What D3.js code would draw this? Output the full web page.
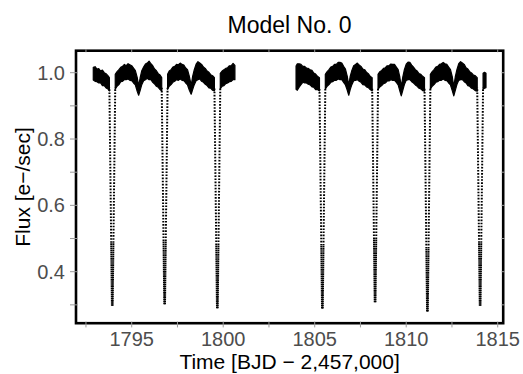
<!DOCTYPE html>
<html>
<head>
<meta charset="utf-8">
<script src="https://cdn.jsdelivr.net/npm/d3@7"></script>
<style>
  body { margin: 0; background: #fff; }
  svg { display: block; }
  text { font-family: "Liberation Sans", Arial, Helvetica, sans-serif; }
</style>
</head>
<body>
<svg id="chart" width="523" height="374"></svg>
<script>
// ---- Light curve: out-of-eclipse flux band (upper / lower envelope), null = break ----
const bandTime = [
  1792.90,1793.00,1793.10,1793.20,1793.30,1793.40,1793.50,1793.60,1793.70,1793.78, null,
  1794.10,1794.20,1794.30,1794.40,1794.50,1794.60,1794.70,1794.80,1794.90,1795.00,1795.10,1795.20,1795.30,1795.38,1795.46,1795.55,1795.65,1795.75,1795.85,1795.95,1796.05,1796.15,1796.25,1796.35,1796.45,1796.55,1796.64, null,
  1796.96,1797.05,1797.15,1797.25,1797.35,1797.45,1797.55,1797.65,1797.75,1797.85,1797.95,1798.05,1798.15,1798.25,1798.33,1798.42,1798.52,1798.62,1798.72,1798.82,1798.92,1799.02,1799.12,1799.22,1799.32,1799.42,1799.52, null,
  1799.84,1799.94,1800.04,1800.14,1800.24,1800.34,1800.44,1800.54,1800.64, null,
  1803.98,1804.05,1804.15,1804.25,1804.35,1804.45,1804.55,1804.65,1804.75,1804.85,1804.95,1805.05,1805.15,1805.26, null,
  1805.58,1805.68,1805.78,1805.88,1805.98,1806.08,1806.18,1806.28,1806.38,1806.48,1806.58,1806.68,1806.78,1806.86,1806.94,1807.03,1807.13,1807.23,1807.33,1807.43,1807.53,1807.63,1807.73,1807.83,1807.93,1808.03,1808.14, null,
  1808.46,1808.56,1808.66,1808.76,1808.86,1808.96,1809.06,1809.16,1809.26,1809.36,1809.46,1809.56,1809.65,1809.73,1809.81,1809.90,1810.00,1810.10,1810.20,1810.30,1810.40,1810.50,1810.60,1810.70,1810.80,1810.90,1811.00, null,
  1811.32,1811.42,1811.52,1811.62,1811.72,1811.82,1811.92,1812.02,1812.12,1812.22,1812.32,1812.42,1812.52,1812.60,1812.68,1812.77,1812.87,1812.97,1813.07,1813.17,1813.27,1813.37,1813.47,1813.57,1813.67,1813.77,1813.88, null,
  1814.20,1814.28,1814.36
];
const bandUpper = [
  1.016,1.018,1.011,1.012,1.005,1.008,1.000,0.997,0.991,0.985, null,
  0.995,1.003,1.009,1.016,1.019,1.025,1.021,1.027,1.024,1.021,1.014,1.006,0.986,0.960,0.984,1.006,1.017,1.026,1.029,1.035,1.027,1.021,1.011,1.006,0.997,0.993,0.985, null,
  0.995,1.005,1.009,1.017,1.019,1.025,1.024,1.029,1.025,1.023,1.014,1.009,0.989,0.962,0.989,1.009,1.026,1.033,1.029,1.025,1.017,1.013,1.005,1.001,0.994,0.991,0.985, null,
  0.998,1.005,1.009,1.013,1.015,1.021,1.021,1.028,1.022, null,
  1.020,1.027,1.027,1.025,1.019,1.019,1.014,1.013,1.009,1.007,0.999,0.996,0.989,0.985, null,
  0.995,1.003,1.009,1.017,1.019,1.025,1.025,1.031,1.031,1.029,1.019,1.011,0.989,0.962,0.989,1.007,1.021,1.025,1.029,1.023,1.019,1.011,1.009,1.001,0.997,0.989,0.985, null,
  0.995,1.003,1.007,1.013,1.015,1.021,1.021,1.026,1.025,1.025,1.017,1.009,0.987,0.958,0.986,1.009,1.026,1.032,1.031,1.023,1.017,1.009,1.005,0.997,0.995,0.989,0.985, null,
  0.995,1.003,1.009,1.017,1.019,1.025,1.027,1.031,1.027,1.025,1.017,1.009,0.987,0.958,0.987,1.009,1.027,1.033,1.029,1.025,1.015,1.011,1.003,0.999,0.993,0.991,0.985, null,
  0.998,1.001,0.998
];
const bandLower = [
  0.978,0.974,0.973,0.969,0.969,0.961,0.961,0.954,0.951,0.945, null,
  0.950,0.959,0.964,0.973,0.974,0.979,0.979,0.981,0.977,0.976,0.969,0.963,0.944,0.932,0.946,0.964,0.976,0.979,0.983,0.979,0.979,0.971,0.966,0.959,0.956,0.949,0.945, null,
  0.950,0.959,0.964,0.971,0.974,0.979,0.977,0.981,0.977,0.976,0.969,0.963,0.947,0.935,0.949,0.964,0.976,0.979,0.981,0.974,0.971,0.965,0.961,0.954,0.953,0.947,0.945, null,
  0.952,0.959,0.961,0.967,0.969,0.973,0.974,0.979,0.979, null,
  0.950,0.947,0.956,0.964,0.971,0.969,0.969,0.965,0.963,0.957,0.956,0.949,0.949,0.945, null,
  0.950,0.959,0.964,0.971,0.973,0.977,0.977,0.981,0.979,0.979,0.971,0.963,0.947,0.932,0.949,0.964,0.976,0.977,0.979,0.974,0.971,0.964,0.963,0.957,0.955,0.949,0.945, null,
  0.950,0.957,0.961,0.967,0.969,0.975,0.975,0.979,0.977,0.977,0.971,0.963,0.945,0.930,0.946,0.964,0.977,0.979,0.979,0.973,0.969,0.963,0.959,0.953,0.951,0.946,0.944, null,
  0.950,0.959,0.964,0.971,0.973,0.977,0.977,0.981,0.977,0.976,0.969,0.963,0.945,0.930,0.946,0.964,0.977,0.979,0.979,0.973,0.969,0.961,0.959,0.953,0.951,0.946,0.944, null,
  0.950,0.953,0.955
];

// ---- Primary eclipses: ingress start, mid-eclipse, egress end, minimum flux ----
const eclipseStart = [1793.78, 1796.64, 1799.52, 1805.26, 1808.14, 1811.00, 1813.88];
const eclipseMid   = [1793.94, 1796.80, 1799.68, 1805.42, 1808.30, 1811.16, 1814.04];
const eclipseEnd   = [1794.10, 1796.96, 1799.84, 1805.58, 1808.46, 1811.32, 1814.20];
const eclipseMin   = [0.297, 0.302, 0.290, 0.289, 0.308, 0.280, 0.297];
const eclipseEdgeFlux = 0.955;

// ---- Axis ticks and labels ----
const xTicks = [1792.5, 1795, 1797.5, 1800, 1802.5, 1805, 1807.5, 1810, 1812.5, 1815];
const xTickLabels = ["", "1795", "", "1800", "", "1805", "", "1810", "", "1815"];
const yTicks = [0.3, 0.4, 0.5, 0.6, 0.7, 0.8, 0.9, 1.0];
const yTickLabels = ["", "0.4", "", "0.6", "", "0.8", "", "1.0"];

const chartTitle = "Model No. 0";
const xTitle = "Time [BJD \u2212 2,457,000]";
const yTitle = "Flux [e\u2212/sec]";

// ---- Layout ----
const panel = { left: 76, right: 503.2, top: 50.7, bottom: 323.2 };
const svg = d3.select("#chart");

const x = d3.scaleLinear().domain([1791.956, 1815.30]).range([panel.left, panel.right]);
const y = d3.scaleLinear().domain([0.2447, 1.0663]).range([panel.bottom, panel.top]);

svg.append("defs").append("clipPath").attr("id", "panel-clip")
  .append("rect")
  .attr("x", panel.left).attr("y", panel.top)
  .attr("width", panel.right - panel.left).attr("height", panel.bottom - panel.top);

const plot = svg.append("g").attr("clip-path", "url(#panel-clip)");

// Out-of-eclipse flux band
const band = bandTime.map((t, i) => ({ t, u: bandUpper[i], l: bandLower[i] }));
const area = d3.area()
  .defined(d => d.t !== null)
  .x(d => x(d.t))
  .y0(d => y(d.l))
  .y1(d => y(d.u));
plot.append("path")
  .datum(band)
  .attr("d", area)
  .attr("fill", "#000")
  .attr("stroke", "#000")
  .attr("stroke-width", 1.2)
  .attr("stroke-linejoin", "round");

// Eclipse ingress / egress columns of points, drawn from the minimum upward
const dense = d3.range(30).flatMap(() => [1.6, 0.5]);
const sparse = d3.range(80).flatMap(() => [1.6, 1.5]);
const dash = dense.concat(sparse).join(" ");
const line = d3.line().x(d => x(d.t)).y(d => y(d.f));

eclipseMid.forEach((tm, i) => {
  const legs = [
    [{ t: tm - 0.02, f: eclipseMin[i] }, { t: eclipseStart[i], f: eclipseEdgeFlux }],
    [{ t: tm + 0.02, f: eclipseMin[i] }, { t: eclipseEnd[i], f: eclipseEdgeFlux }]
  ];
  legs.forEach(leg => {
    plot.append("path")
      .datum(leg)
      .attr("d", line)
      .attr("fill", "none")
      .attr("stroke", "#000")
      .attr("stroke-width", 2)
      .attr("stroke-dasharray", dash);
  });
});

// Panel frame
svg.append("rect")
  .attr("x", panel.left).attr("y", panel.top)
  .attr("width", panel.right - panel.left).attr("height", panel.bottom - panel.top)
  .attr("fill", "none")
  .attr("stroke", "#000")
  .attr("stroke-width", 2.6);

// Ticks crossing the frame on all four sides
const tickColor = "#9a9a9a";
const ticks = svg.append("g").attr("stroke", tickColor).attr("stroke-width", 1);
xTicks.forEach(t => {
  ticks.append("line").attr("x1", x(t)).attr("x2", x(t)).attr("y1", panel.bottom - 1.6).attr("y2", panel.bottom + 4.2);
  ticks.append("line").attr("x1", x(t)).attr("x2", x(t)).attr("y1", panel.top - 1.4).attr("y2", panel.top + 1.6);
});
yTicks.forEach(v => {
  ticks.append("line").attr("y1", y(v)).attr("y2", y(v)).attr("x1", panel.left - 6).attr("x2", panel.left + 1.6);
  ticks.append("line").attr("y1", y(v)).attr("y2", y(v)).attr("x1", panel.right - 1.6).attr("x2", panel.right + 1.4);
});

// Tick labels
const labelColor = "#4d4d4d";
svg.append("g").selectAll("text")
  .data(xTicks.map((t, i) => ({ t, s: xTickLabels[i] })).filter(d => d.s))
  .join("text")
  .attr("x", d => x(d.t))
  .attr("y", 346)
  .attr("text-anchor", "middle")
  .attr("font-size", 20)
  .attr("fill", labelColor)
  .text(d => d.s);

svg.append("g").selectAll("text")
  .data(yTicks.map((v, i) => ({ v, s: yTickLabels[i] })).filter(d => d.s))
  .join("text")
  .attr("x", 65)
  .attr("y", d => y(d.v))
  .attr("dy", "0.35em")
  .attr("text-anchor", "end")
  .attr("font-size", 20)
  .attr("fill", labelColor)
  .text(d => d.s);

// Titles
svg.append("text")
  .attr("x", (panel.left + panel.right) / 2)
  .attr("y", 33)
  .attr("text-anchor", "middle")
  .attr("font-size", 23)
  .attr("fill", "#000")
  .text(chartTitle);

svg.append("text")
  .attr("x", (panel.left + panel.right) / 2)
  .attr("y", 369)
  .attr("text-anchor", "middle")
  .attr("font-size", 21)
  .attr("fill", "#000")
  .text(xTitle);

svg.append("text")
  .attr("transform", `translate(30,${(panel.top + panel.bottom) / 2}) rotate(-90)`)
  .attr("text-anchor", "middle")
  .attr("font-size", 21)
  .attr("fill", "#000")
  .text(yTitle);
</script>
</body>
</html>
